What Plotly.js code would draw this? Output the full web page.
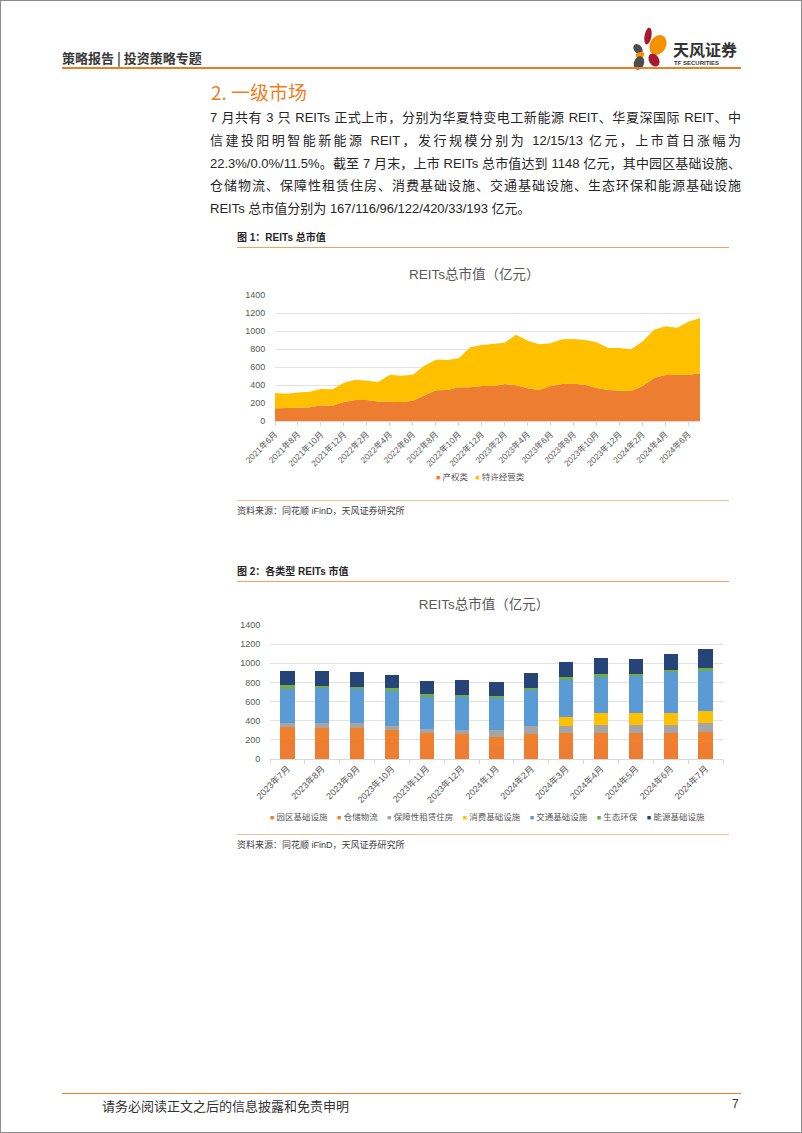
<!DOCTYPE html>
<html>
<head>
<meta charset="utf-8">
<script src="https://cdn.plot.ly/plotly-3.0.1.min.js"></script>
<style>
body { margin: 0; background: #fff; }
#page { position: relative; width: 802px; height: 1133px; box-sizing: border-box; border: 1px solid #8c8c8c; overflow: hidden;
        font-family: "Liberation Sans", "Noto Sans CJK SC", sans-serif; color: #262626; background: #fff; }
.abs { position: absolute; white-space: nowrap; }
.hdr { left: 61px; top: 47px; font-size: 13px; font-weight: bold; color: #3a3a3a; font-family: "Noto Sans CJK SC", sans-serif; }
.oline { position: absolute; background: #ee7d22; }
.h2 { left: 210px; top: 77px; font-size: 19px; color: #f07d1e; font-family: "Noto Sans CJK SC", sans-serif; }
.para { position: absolute; left: 209px; width: 531px; font-size: 13px; line-height: 22.8px; color: #262626; }
.para div { text-align: justify; text-align-last: justify; white-space: nowrap; }
.para div.last { text-align-last: left; }
.cap { font-size: 10px; font-weight: bold; left: 236px; color: #262626; }
.src { font-size: 9px; left: 236px; color: #404040; }
.chart { position: absolute; left: 236px; width: 491px; }
</style>
</head>
<body>
<div id="page">
  <div class="abs hdr">策略报告 | 投资策略专题</div>
  <svg class="abs" style="left:628px;top:25px" width="44" height="46" viewBox="0 0 44 46">
    <ellipse cx="19" cy="10" rx="3.5" ry="8.5" fill="#a6192e" transform="rotate(10 19 10)"/>
    <ellipse cx="29" cy="19" rx="8" ry="10.5" fill="#f39200" transform="rotate(30 29 19)"/>
    <ellipse cx="9" cy="23" rx="4" ry="5.5" fill="#4d4d4f" transform="rotate(-40 9 23)"/>
    <ellipse cx="11" cy="29" rx="4.5" ry="3" fill="#f39200" transform="rotate(-20 11 29)"/>
    <ellipse cx="10" cy="37" rx="5" ry="7" fill="#4d4d4f" transform="rotate(20 10 37)"/>
    <ellipse cx="25" cy="34" rx="5" ry="7" fill="#a6192e" transform="rotate(-30 25 34)"/>
  </svg>
  <div class="abs" style="left:672px;top:36px;font-size:16px;font-weight:bold;color:#333;font-family:'Noto Sans CJK SC',sans-serif;">天风证券</div>
  <div class="abs" style="left:673px;top:59px;font-size:6px;font-weight:bold;color:#333;">TF SECURITIES</div>
  <div class="oline" style="left:61px;top:66px;width:679px;height:2px;"></div>

  <div class="abs h2">2. 一级市场</div>

  <div class="para" style="top:106px;">
    <div>7 月共有 3 只 REITs 正式上市，分别为华夏特变电工新能源 REIT、华夏深国际 REIT、中</div>
    <div>信建投阳明智能新能源 REIT，发行规模分别为 12/15/13 亿元，上市首日涨幅为</div>
    <div>22.3%/0.0%/11.5%。截至 7 月末，上市 REITs 总市值达到 1148 亿元，其中园区基础设施、</div>
    <div>仓储物流、保障性租赁住房、消费基础设施、交通基础设施、生态环保和能源基础设施</div>
    <div class="last">REITs 总市值分别为 167/116/96/122/420/33/193 亿元。</div>
  </div>

  <div class="abs cap" style="top:228px;">图 1：REITs 总市值</div>
  <div class="oline" style="left:236px;top:246px;width:492px;height:1px;background:#f2a25c;"></div>
  <div id="chart1" class="chart" style="top:252px;height:245px;"></div>
  <div class="oline" style="left:236px;top:499px;width:492px;height:1px;background:#f2c29a;"></div>
  <div class="abs src" style="top:503px;">资料来源：同花顺 iFinD，天风证券研究所</div>

  <div class="abs cap" style="top:562px;">图 2：各类型 REITs 市值</div>
  <div class="oline" style="left:236px;top:580px;width:492px;height:1px;background:#f2a25c;"></div>
  <div id="chart2" class="chart" style="top:585px;height:250px;"></div>
  <div class="oline" style="left:236px;top:833px;width:492px;height:1px;background:#f2c29a;"></div>
  <div class="abs src" style="top:837px;">资料来源：同花顺 iFinD，天风证券研究所</div>

  <div class="oline" style="left:61px;top:1092px;width:679px;height:1px;"></div>
  <div class="abs" style="left:101px;top:1095px;font-size:13px;color:#333;font-family:'Noto Sans CJK SC',sans-serif;">请务必阅读正文之后的信息披露和免责申明</div>
  <div class="abs" style="left:731px;top:1096px;font-size:12px;color:#333;">7</div>
</div>

<script>
// 图1 data: monthly, 2021年6月 - 2024年7月
var months = ["2021年6月","2021年7月","2021年8月","2021年9月","2021年10月","2021年11月","2021年12月",
  "2022年1月","2022年2月","2022年3月","2022年4月","2022年5月","2022年6月","2022年7月","2022年8月","2022年9月",
  "2022年10月","2022年11月","2022年12月","2023年1月","2023年2月","2023年3月","2023年4月","2023年5月",
  "2023年6月","2023年7月","2023年8月","2023年9月","2023年10月","2023年11月","2023年12月",
  "2024年1月","2024年2月","2024年3月","2024年4月","2024年5月","2024年6月","2024年7月"];
var chanquan = [141,141,148,152,174,170,211,233,233,218,215,211,226,281,341,344,374,374,389,389,411,396,363,344,389,411,415,404,367,344,341,333,389,478,511,511,515,530];
var texu = [170,163,170,174,182,182,215,226,215,215,300,293,289,334,340,334,322,445,455,467,459,563,530,508,474,496,496,496,507,467,470,463,493,537,541,526,589,614];
var monthTicks = ["2021年6月","2021年8月","2021年10月","2021年12月","2022年2月","2022年4月","2022年6月","2022年8月",
  "2022年10月","2022年12月","2023年2月","2023年4月","2023年6月","2023年8月","2023年10月","2023年12月",
  "2024年2月","2024年4月","2024年6月"];
var names1 = ["产权类", "特许经营类"];
var colors1 = ["#ED7D31", "#FFC000"];

// 图2 data
var cats2 = ["2023年7月","2023年8月","2023年9月","2023年10月","2023年11月","2023年12月","2024年1月",
  "2024年2月","2024年3月","2024年4月","2024年5月","2024年6月","2024年7月"];
var yuanqu   = [200,195,195,178,158,154,137,154,158,160,162,160,167];
var cangchu  = [136,134,134,123,109,106, 95,106,109,110,112,110,116];
var baozhang = [ 42, 45, 49, 49, 48, 45, 66, 83, 76, 83, 79, 83, 96];
var xiaofei  = [  0,  0,  0,  0,  0,  0,  0,  0, 94,125,129,129,122];
var jiaotong = [357,365,350,364,336,343,336,378,384,381,380,422,420];
var shengtai = [ 34, 28, 28, 26, 25, 25, 28, 25, 31, 33, 30, 28, 33];
var nengyuan = [146,148,150,142,138,148,142,149,163,166,156,170,193];
var names2 = ["园区基础设施","仓储物流","保障性租赁住房","消费基础设施","交通基础设施","生态环保","能源基础设施"];
var colors2 = ["#ED7D31","#F07F2E","#A5A5A5","#FFC000","#5B9BD5","#70AD47","#264478"];

var fam = '"Liberation Sans", "Noto Sans CJK SC", sans-serif';
var nb = '\u00a0';

function legendText(names, colors, gap) {
  return names.map(function (n, i) {
    return '<span style="color:' + colors[i] + ';font-size:7px">■</span>' + nb + n;
  }).join(gap);
}

// 图1
var areaData = [chanquan, texu].map(function (vals, i) {
  return {
    x: months, y: vals, type: "scatter", mode: "lines", stackgroup: "one",
    line: {width: 0, color: colors1[i]}, fillcolor: colors1[i],
    name: names1[i], showlegend: false, hoverinfo: "skip"
  };
});

var layout1 = {
  width: 491, height: 245,
  margin: {l: 38, r: 28, t: 42, b: 77},
  paper_bgcolor: "rgba(0,0,0,0)", plot_bgcolor: "rgba(0,0,0,0)",
  font: {family: fam, size: 9, color: "#595959"},
  title: {text: "REITs总市值（亿元）", font: {size: 13.5, color: "#595959"},
          x: 0.483, xref: "container", xanchor: "center", y: 0.914, yref: "container", yanchor: "middle"},
  xaxis: {type: "category", range: [0, 37], tickvals: monthTicks, ticktext: monthTicks, tickangle: -45,
          tickfont: {size: 8.5}, showgrid: false, showline: true, linecolor: "#D9D9D9", ticks: "outside",
          ticklen: 4, tickcolor: "#D9D9D9", zeroline: false},
  yaxis: {range: [0, 1400], dtick: 200, showgrid: true, gridcolor: "#E3E3E3", zeroline: false, showline: false,
          ticks: "outside", ticklen: 7, tickcolor: "rgba(0,0,0,0)", tickfont: {size: 9}},
  showlegend: false,
  annotations: [{text: legendText(names1, colors1, nb + nb + nb), xref: "paper", yref: "paper",
                 x: 0.484, y: -0.444, xanchor: "center", yanchor: "middle", showarrow: false,
                 font: {size: 8.5, color: "#595959"}}]
};

Plotly.newPlot("chart1", areaData, layout1, {displayModeBar: false, staticPlot: true});

// 图2
var series2 = [yuanqu, cangchu, baozhang, xiaofei, jiaotong, shengtai, nengyuan];
var barData = series2.map(function (vals, i) {
  return {x: cats2, y: vals, type: "bar", name: names2[i], marker: {color: colors2[i]},
          showlegend: false, hoverinfo: "skip"};
});

var layout2 = {
  width: 491, height: 250,
  margin: {l: 33, r: 5, t: 39, b: 77},
  barmode: "stack", bargap: 0.59,
  paper_bgcolor: "rgba(0,0,0,0)", plot_bgcolor: "rgba(0,0,0,0)",
  font: {family: fam, size: 9, color: "#595959"},
  title: {text: "REITs总市值（亿元）", font: {size: 13.5, color: "#595959"},
          x: 0.503, xref: "container", xanchor: "center", y: 0.928, yref: "container", yanchor: "middle"},
  xaxis: {type: "category", tickangle: -45, tickfont: {size: 9}, showgrid: false, showline: true,
          linecolor: "#D9D9D9", ticks: "outside", tickson: "boundaries", ticklen: 4, tickcolor: "#D9D9D9",
          zeroline: false},
  yaxis: {range: [0, 1400], dtick: 200, showgrid: true, gridcolor: "#E3E3E3", zeroline: false, showline: false,
          ticks: "outside", ticklen: 7, tickcolor: "rgba(0,0,0,0)", tickfont: {size: 9}},
  showlegend: false,
  annotations: [{text: legendText(names2, colors2, nb + nb + nb + nb), xref: "paper", yref: "paper",
                 x: 0.481, y: -0.433, xanchor: "center", yanchor: "middle", showarrow: false,
                 font: {size: 8.5, color: "#595959"}}]
};

Plotly.newPlot("chart2", barData, layout2, {displayModeBar: false, staticPlot: true});
</script>
</body>
</html>
